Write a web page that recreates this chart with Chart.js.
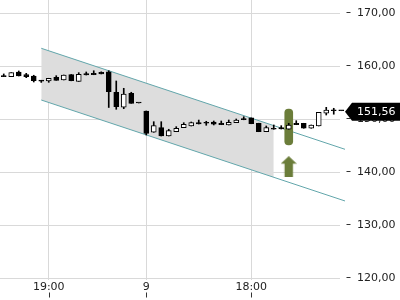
<!DOCTYPE html>
<html><head><meta charset="utf-8">
<script src="https://cdn.jsdelivr.net/npm/chart.js@4.4.1/dist/chart.umd.min.js"></script>
<style>html,body{margin:0;padding:0;background:#fff}#wrap{width:400px;height:300px;position:relative}</style>
</head><body><div id="wrap"><canvas id="c"></canvas></div>
<script>
// ---- data ----
const opens  = [158.05,157.98,158.87,158.36,158.11,157.30,157.17,157.87,157.36,158.36,157.10,158.55,158.60,158.80,158.92,155.04,152.21,154.85,153.02,151.51,147.49,148.36,146.79,147.60,148.36,148.68,149.30,149.19,149.43,149.17,148.87,149.32,150.10,150.20,149.20,147.60,148.20,148.36,148.06,149.19,149.19,148.25,148.68,151.08,151.60,151.56];
const highs  = [158.50,158.74,159.06,158.62,158.25,157.30,157.68,158.17,158.30,158.40,158.74,158.87,159.10,158.90,159.11,157.17,155.79,155.04,153.02,151.51,149.49,149.49,148.06,148.55,149.30,149.43,149.80,149.57,149.62,149.62,149.81,150.00,150.43,150.20,149.20,148.68,148.87,148.74,149.19,149.68,149.19,148.87,151.26,152.20,152.02,151.56];
const lows   = [158.00,157.98,158.11,157.79,156.98,156.90,156.92,157.30,157.36,157.20,157.10,158.30,158.35,158.50,152.17,151.83,151.94,152.96,153.02,146.98,147.49,146.79,146.79,147.60,148.36,148.68,149.05,148.81,148.87,148.92,148.87,149.32,149.85,149.10,147.60,147.60,148.06,148.11,148.06,148.92,148.25,148.25,148.68,150.75,150.90,151.56];
const closes = [158.00,158.74,158.11,157.98,157.23,157.15,157.68,157.30,158.30,157.23,158.43,158.30,158.35,158.50,155.15,152.32,154.72,152.96,153.02,147.30,148.74,146.79,147.79,148.25,149.00,149.30,149.05,149.19,149.00,148.92,149.38,149.81,149.85,149.10,147.60,148.36,148.06,148.11,148.87,148.92,148.25,148.87,151.26,151.70,151.56,151.56];
const xTickIndex  = [6, 19, 33];
const xTickLabels = ['19:00', '9', '18:00'];
const yTickValues = [120, 130, 140, 150, 160, 170];
const yMin = 119.62, yMax = 172.45;
const channelUpper = [[5, 163.34], [45.5, 144.28]];
const channelLower = [[5, 153.58], [45.5, 134.53]];
const shadeUpper   = [[5, 163.34], [36, 148.75]];
const shadeLower   = [[5, 153.58], [36, 139.00]];
const signalBar   = [38, 145.09, 151.88];
const signalArrow = [38, 141.0];
const lastPrice = 151.56;

// ---- styling ----
const GREEN = '#6b7d3a';
const TEAL = '#62a6ab';
const GRID = '#d9d9d9';
const FONT = {family: 'DejaVu Sans', size: 11};
Chart.defaults.font.family = 'DejaVu Sans';

const arrowCanvas = document.createElement('canvas');
arrowCanvas.width = 16; arrowCanvas.height = 21;
(function(){
  const c = arrowCanvas.getContext('2d');
  c.fillStyle = GREEN;
  c.beginPath();
  c.moveTo(8,0); c.lineTo(16,7.5); c.lineTo(12.2,7.5); c.lineTo(12.2,21);
  c.lineTo(3.8,21); c.lineTo(3.8,7.5); c.lineTo(0,7.5); c.closePath(); c.fill();
})();

const toXY = arr => arr.map(p => ({x: p[0], y: p[1]}));
const fmt = v => v.toFixed(2).replace('.', ',');

const hGrid = {
  id: 'hGrid',
  beforeDatasetsDraw(chart) {
    const {ctx, chartArea: a, scales: {y}} = chart;
    ctx.save();
    ctx.strokeStyle = GRID; ctx.lineWidth = 1;
    yTickValues.forEach(v => {
      const py = Math.round(y.getPixelForValue(v)) + 0.5;
      ctx.beginPath(); ctx.moveTo(a.left, py); ctx.lineTo(a.right - 5, py); ctx.stroke();
    });
    ctx.restore();
  }
};

const decor = {
  id: 'decor',
  afterDraw(chart) {
    const {ctx, scales: {x, y}, chartArea: a} = chart;
    ctx.save();
    ctx.strokeStyle = '#333'; ctx.lineWidth = 1;
    xTickIndex.forEach(i => {
      const px = Math.round(x.getPixelForValue(i)) + 0.5;
      ctx.beginPath(); ctx.moveTo(px, a.bottom + 12.5); ctx.lineTo(px, a.bottom + 17.5); ctx.stroke();
    });
    const py = y.getPixelForValue(lastPrice) + 1;
    const x0 = a.right, x1 = a.right + 7, x2 = chart.width;
    ctx.fillStyle = '#000';
    ctx.beginPath();
    ctx.moveTo(x0, py); ctx.lineTo(x1, py - 9); ctx.lineTo(x2, py - 9);
    ctx.lineTo(x2, py + 9); ctx.lineTo(x1, py + 9); ctx.closePath(); ctx.fill();
    ctx.fillStyle = '#fff';
    ctx.font = '11px "DejaVu Sans"';
    ctx.textBaseline = 'middle'; ctx.textAlign = 'left';
    ctx.fillText(fmt(lastPrice), a.right + 12, py);
    ctx.restore();
  }
};

new Chart(document.getElementById('c'), {
  type: 'bar',
  data: {
    datasets: [
      { type: 'bar', label: 'body',
        data: opens.map((o, i) => ({x: i, y: [o, closes[i]]})),
        backgroundColor: ctx => closes[ctx.dataIndex] > opens[ctx.dataIndex] ? '#ffffff' : '#000000',
        borderColor: '#000', borderWidth: 1, borderSkipped: false,
        barThickness: 5, minBarLength: 1, grouped: false, order: 1 },
      { type: 'bar', label: 'wick',
        data: lows.map((l, i) => ({x: i, y: [l, highs[i]]})),
        backgroundColor: '#000', borderWidth: 0,
        barThickness: 1, grouped: false, order: 2 },
      { type: 'line', label: 'shadeTop', data: toXY(shadeUpper),
        borderColor: 'rgba(0,0,0,0)', borderWidth: 0, pointRadius: 0,
        fill: '+1', backgroundColor: '#dddddd', order: 10 },
      { type: 'line', label: 'shadeBottom', data: toXY(shadeLower),
        borderColor: 'rgba(0,0,0,0)', borderWidth: 0, pointRadius: 0, fill: false, order: 10 },
      { type: 'line', label: 'upper', data: toXY(channelUpper),
        borderColor: TEAL, borderWidth: 1, pointRadius: 0, fill: false, order: 9 },
      { type: 'line', label: 'lower', data: toXY(channelLower),
        borderColor: TEAL, borderWidth: 1, pointRadius: 0, fill: false, order: 9 },
      { type: 'bar', label: 'signal',
        data: [{x: signalBar[0], y: [signalBar[1], signalBar[2]]}],
        backgroundColor: GREEN, borderWidth: 0, borderSkipped: false, borderRadius: 4,
        barThickness: 8, grouped: false, order: 8 },
      { type: 'line', label: 'arrow', data: [{x: signalArrow[0], y: signalArrow[1]}],
        showLine: false, pointStyle: arrowCanvas, pointRadius: 10, order: 7 }
    ]
  },
  options: {
    responsive: true, maintainAspectRatio: false, animation: false,
    devicePixelRatio: 1,
    layout: {padding: 0, autoPadding: false},
    plugins: {legend: {display: false}, tooltip: {enabled: false}},
    scales: {
      x: {
        type: 'linear', min: -0.5, max: 45.5, offset: false,
        afterBuildTicks: s => { s.ticks = xTickIndex.map(v => ({value: v})); },
        ticks: {
          callback: v => { const k = xTickIndex.indexOf(v); return k >= 0 ? xTickLabels[k] : ''; },
          font: FONT, color: '#222', padding: 1, maxRotation: 0, autoSkip: false
        },
        grid: {color: GRID, offset: false, drawTicks: false},
        border: {display: false},
        afterFit: s => { s.height = 20; s.paddingLeft = 0; s.paddingRight = 0; }
      },
      y: {
        position: 'right', min: yMin, max: yMax,
        afterBuildTicks: s => { s.ticks = yTickValues.map(v => ({value: v})); },
        ticks: {callback: v => fmt(v), font: FONT, color: '#222', padding: 6},
        grid: {color: 'rgba(0,0,0,0)', tickColor: '#333', tickLength: 6, tickBorderDash: [0, 1.5, 4, 20]},
        border: {display: false},
        afterFit: s => { s.width = 55; s.paddingTop = 0; s.paddingBottom = 0; }
      }
    }
  },
  plugins: [hGrid, decor]
});
</script>
</body></html>
